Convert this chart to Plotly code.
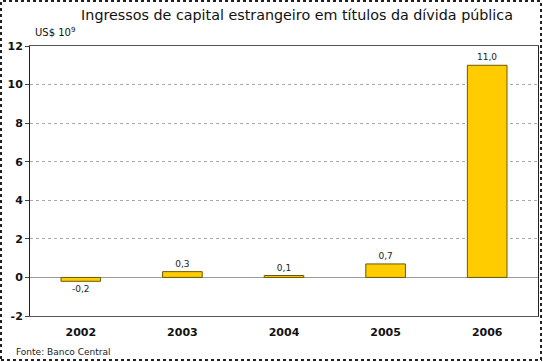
import plotly.graph_objects as go

years = ["2002", "2003", "2004", "2005", "2006"]
values = [-0.2, 0.3, 0.1, 0.7, 11.0]
labels = ["-0,2", "0,3", "0,1", "0,7", "11,0"]
yticks = [-2, 0, 2, 4, 6, 8, 10, 12]

fig = go.Figure()
fig.add_trace(go.Bar(
    x=years, y=values, width=0.39,
    marker=dict(color="#FFCC00", line=dict(color="#6b5a00", width=1)),
    text=labels, textposition="outside", cliponaxis=False,
    textfont=dict(family="DejaVu Sans", size=9, color="#222"),
))

fig.update_layout(
    width=543, height=362,
    margin=dict(l=30, r=5, t=46, b=46),
    paper_bgcolor="white", plot_bgcolor="white",
    showlegend=False,
    title=dict(text="Ingressos de capital estrangeiro em títulos da dívida pública",
               x=0.547, xanchor="center", y=0.958, yanchor="middle",
               font=dict(family="DejaVu Sans", size=14.3, color="#111")),
    xaxis=dict(showgrid=False, showline=True, linecolor="#555", mirror=True,
               tickfont=dict(family="DejaVu Sans", size=11, color="#111", weight="bold"),
               ticks="", ticklabelstandoff=6),
    yaxis=dict(range=[-2, 12], tickvals=yticks, ticktext=[str(t) for t in yticks],
               showgrid=True, gridcolor="#aaaaaa", griddash="dot", gridwidth=1,
               zeroline=True, zerolinecolor="#999", zerolinewidth=1,
               showline=True, linecolor="#222", mirror=True,
               tickfont=dict(family="DejaVu Sans", size=11, color="#111", weight="bold"),
               ticks="outside", ticklen=4, tickcolor="#444"),
    shapes=[dict(type="rect", xref="paper", yref="paper", x0=-0.0571, x1=1.0059, y0=-0.163, y1=1.1667,
                 line=dict(color="#222", width=2, dash="dot"))],
    annotations=[
        dict(text="US$ 10<sup>9</sup>", xref="paper", yref="paper", x=0.006, y=1.022,
             xanchor="left", yanchor="bottom", showarrow=False,
             font=dict(family="DejaVu Sans", size=10, color="#111")),
        dict(text="Fonte: Banco Central", xref="paper", yref="paper", x=-0.0315, y=-0.133,
             xanchor="left", yanchor="middle", showarrow=False,
             font=dict(family="DejaVu Sans", size=9, color="#222")),
    ],
)

fig.write_html("out.html", config={"displayModeBar": False},
               post_script="document.body.style.margin='0';")
